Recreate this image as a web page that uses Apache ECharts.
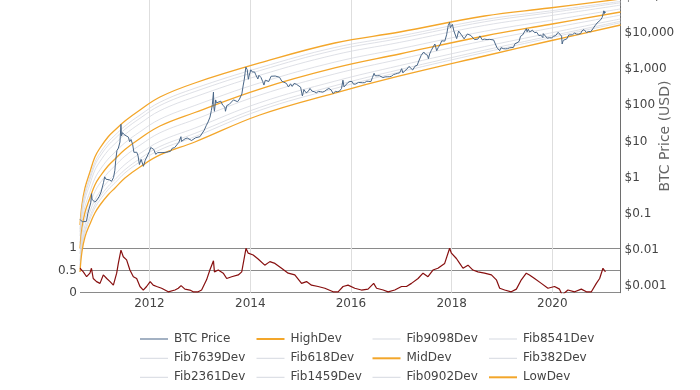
<!DOCTYPE html>
<html><head><meta charset="utf-8">
<script src="https://cdn.jsdelivr.net/npm/echarts@6/dist/echarts.min.js"></script>
<style>html,body{margin:0;padding:0;background:#fff}#c{width:700px;height:390px}</style>
</head><body><div id="c"></div>
<script>
// ---- band sample dates and values ----
const bandDates = ['2010-08-15','2010-08-29','2010-09-20','2010-10-26','2010-12-01','2011-01-07','2011-03-06','2011-04-26','2011-07-07','2011-10-24','2012-03-17','2012-11-25','2014-03-11','2015-09-06','2016-12-20','2018-08-27','2019-12-11','2021-05-10'];
const highDev = [0.0491,0.1752,0.516,1.428,3.71,6.57,13.23,20.65,36.6,73.7,168.5,410.6,1465,5226,10522,29120,48430,85860];
const fib9098 = [0.0376,0.1342,0.390,1.059,2.68,4.75,9.50,14.84,26.5,53.3,121,293,1086,3925,8157,23150,40010,73690];
const fib8541 = [0.0316,0.1127,0.327,0.881,2.20,3.876,7.70,12.03,21.6,43.5,98.1,237.5,903,3285,7004,20130,35690,67420];
const fib7639 = [0.0242,0.0864,0.247,0.653,1.601,2.785,5.535,8.64,15.51,31.2,70.5,169.6,670,2469,5431,16010,29490,58240];
const fib618  = [0.0156,0.0557,0.157,0.403,0.950,1.642,3.223,5.031,9.15,18.42,41.06,98.1,413,1551,3614,11000,21730,45730];
const midDev  = [0.0110,0.0393,0.1086,0.273,0.625,1.072,2.091,3.264,5.975,12.03,26.64,62.9,280,1066,2597,8157,16960,37540];
const fib382  = [0.00776,0.0277,0.0752,0.185,0.410,0.700,1.357,2.118,3.901,7.85,17.29,40.3,190,732,1866,6050,13230,30830];
const fib2361 = [0.005,0.0178,0.0479,0.1143,0.244,0.413,0.790,1.234,2.301,4.63,10.06,23.3,117.2,460,1242,4157,9750,24210];
const fib1459 = [0.00383,0.0137,0.0359,0.0847,0.177,0.297,0.568,0.886,1.653,3.33,7.24,16.63,87.0,346,962,3306,8055,20910];
const fib0902 = [0.00322,0.0115,0.0303,0.0705,0.1445,0.242,0.460,0.719,1.349,2.72,5.86,13.49,72.3,289,826,2874,7185,19010];
const lowDev  = [0.00247,0.00881,0.0229,0.0522,0.105,0.175,0.331,0.516,0.975,1.96,4.22,9.63,53.6,217,641,2286,5936,16430];

// ---- BTC price [date, USD] ----
const btcPrice = [
['2010-08-15',0.07],['2010-09-01',0.06],['2010-09-15',0.062],['2010-10-01',0.062],['2010-10-10',0.10],['2010-10-20',0.10],['2010-11-01',0.20],['2010-11-07',0.36],['2010-11-10',0.25],['2010-11-20',0.28],['2010-12-01',0.21],['2010-12-15',0.24],
['2011-01-01',0.30],['2011-01-15',0.40],['2011-02-01',0.72],['2011-02-10',1.05],['2011-02-20',0.90],['2011-03-01',0.92],['2011-03-15',0.87],['2011-04-01',0.79],['2011-04-15',1.0],['2011-04-25',1.6],['2011-05-01',3.0],['2011-05-10',5.6],['2011-05-20',6.5],['2011-06-01',9.6],['2011-06-08',29.6],['2011-06-12',14],['2011-06-20',17.5],['2011-07-01',15.4],['2011-07-15',13.7],['2011-08-01',13.1],['2011-08-10',9.8],['2011-08-20',11.3],['2011-09-01',8.2],['2011-09-10',5.0],['2011-09-20',5.6],['2011-10-01',5.0],['2011-10-10',4.0],['2011-10-20',2.3],['2011-11-01',3.2],['2011-11-18',2.05],['2011-12-01',3.0],['2011-12-15',3.2],
['2012-01-01',5.3],['2012-01-10',6.8],['2012-01-20',6.4],['2012-02-01',6.0],['2012-02-15',4.4],['2012-03-01',4.9],['2012-03-15',5.3],['2012-04-01',4.9],['2012-04-15',4.9],['2012-05-01',5.0],['2012-05-15',5.0],['2012-06-01',5.3],['2012-06-15',6.5],['2012-07-01',6.7],['2012-07-15',7.6],['2012-08-01',9.4],['2012-08-16',13.5],['2012-08-20',10],['2012-09-01',10.1],['2012-09-15',11.8],['2012-10-01',12.4],['2012-10-15',11.8],['2012-11-01',10.6],['2012-11-15',11.2],['2012-12-01',12.6],['2012-12-15',13.5],
['2013-01-01',13.5],['2013-01-15',14.2],['2013-02-01',20.4],['2013-02-15',27],['2013-03-01',34.5],['2013-03-15',47],['2013-03-25',72],['2013-04-01',104],['2013-04-09',230],['2013-04-12',90],['2013-04-16',68],['2013-04-25',140],['2013-05-01',116],['2013-05-15',115],['2013-06-01',129],['2013-06-15',100],['2013-07-01',88],['2013-07-05',68],['2013-07-15',98],['2013-08-01',105],['2013-08-15',98],['2013-09-01',140],['2013-09-15',127],['2013-10-01',125],['2013-10-15',148],['2013-11-01',205],['2013-11-10',340],['2013-11-18',500],['2013-11-25',800],['2013-11-30',1130],['2013-12-05',1150],['2013-12-10',950],['2013-12-18',520],['2013-12-25',680],
['2014-01-05',950],['2014-01-15',830],['2014-02-01',830],['2014-02-10',690],['2014-02-25',530],['2014-03-05',670],['2014-03-20',580],['2014-04-01',450],['2014-04-10',360],['2014-04-20',490],['2014-05-01',460],['2014-05-15',450],['2014-06-01',630],['2014-06-15',590],['2014-07-01',640],['2014-07-15',620],['2014-08-01',590],['2014-08-18',460],['2014-09-01',480],['2014-09-20',400],['2014-10-05',320],['2014-10-20',390],['2014-11-01',330],['2014-11-15',400],['2014-12-01',380],['2014-12-15',350],
['2015-01-01',315],['2015-01-14',180],['2015-01-25',270],['2015-02-10',220],['2015-02-25',240],['2015-03-10',290],['2015-03-25',245],['2015-04-10',236],['2015-04-25',220],['2015-05-10',240],['2015-05-25',237],['2015-06-10',229],['2015-06-25',243],['2015-07-10',270],['2015-07-25',290],['2015-08-10',265],['2015-08-25',210],['2015-09-10',240],['2015-09-25',235],['2015-10-10',245],['2015-10-25',290],['2015-11-04',490],['2015-11-12',320],['2015-11-25',330],['2015-12-10',420],['2015-12-25',455],
['2016-01-10',448],['2016-01-20',380],['2016-02-05',385],['2016-02-25',425],['2016-03-10',415],['2016-03-25',417],['2016-04-10',420],['2016-04-25',460],['2016-05-10',455],['2016-05-25',450],['2016-06-05',580],['2016-06-17',760],['2016-06-25',650],['2016-07-10',650],['2016-07-25',655],['2016-08-05',580],['2016-08-20',580],['2016-09-05',605],['2016-09-20',610],['2016-10-05',610],['2016-10-20',630],['2016-11-05',700],['2016-11-20',730],['2016-12-05',760],['2016-12-20',790],
['2017-01-03',1020],['2017-01-12',780],['2017-01-25',890],['2017-02-10',990],['2017-02-25',1180],['2017-03-10',1190],['2017-03-24',940],['2017-04-10',1200],['2017-04-25',1260],['2017-05-10',1760],['2017-05-25',2400],['2017-06-01',2400],['2017-06-12',2950],['2017-06-25',2550],['2017-07-10',2400],['2017-07-16',1930],['2017-07-25',2600],['2017-08-05',3200],['2017-08-20',4100],['2017-09-01',4900],['2017-09-14',3200],['2017-09-25',3900],['2017-10-10',4800],['2017-10-20',6000],['2017-11-01',6750],['2017-11-12',5900],['2017-11-25',8800],['2017-12-07',16000],['2017-12-17',19400],['2017-12-22',13800],['2017-12-28',14500],
['2018-01-06',17100],['2018-01-17',11200],['2018-01-28',11700],['2018-02-06',6900],['2018-02-20',11200],['2018-03-05',11500],['2018-03-18',8200],['2018-04-01',6800],['2018-04-10',6800],['2018-04-25',9300],['2018-05-05',9800],['2018-05-20',8400],['2018-06-01',7500],['2018-06-15',6500],['2018-06-29',5900],['2018-07-10',6700],['2018-07-25',8200],['2018-08-10',6400],['2018-08-25',6700],['2018-09-05',7300],['2018-09-15',6500],['2018-10-01',6600],['2018-10-15',6500],['2018-11-01',6350],['2018-11-15',5600],['2018-11-25',3900],['2018-12-05',3800],['2018-12-15',3200],['2018-12-25',3900],
['2019-01-10',3650],['2019-01-25',3600],['2019-02-10',3650],['2019-02-25',3850],['2019-03-10',3900],['2019-03-25',3950],['2019-04-05',5000],['2019-04-20',5300],['2019-05-05',5800],['2019-05-15',8000],['2019-05-30',8700],['2019-06-10',7700],['2019-06-26',13000],['2019-07-02',10600],['2019-07-10',12600],['2019-07-20',10600],['2019-08-01',10400],['2019-08-10',11800],['2019-08-25',10100],['2019-09-10',10300],['2019-09-25',8400],['2019-10-10',8600],['2019-10-24',7400],['2019-10-27',9500],['2019-11-10',8800],['2019-11-25',7100],['2019-12-10',7300],['2019-12-25',7200],
['2020-01-10',8000],['2020-01-25',8400],['2020-02-12',10300],['2020-02-25',9300],['2020-03-08',8100],['2020-03-12',4900],['2020-03-20',6200],['2020-04-01',6600],['2020-04-15',6800],['2020-04-29',8700],['2020-05-10',8700],['2020-05-25',8800],['2020-06-10',9800],['2020-06-25',9200],['2020-07-10',9200],['2020-07-25',9600],['2020-08-02',11200],['2020-08-17',12300],['2020-09-05',10200],['2020-09-20',10900],['2020-10-05',10700],['2020-10-21',12900],['2020-11-05',15600],['2020-11-20',18600],['2020-12-01',19700],['2020-12-17',23000],['2020-12-27',26500],
['2021-01-03',33000],['2021-01-08',40500],['2021-01-12',34000],['2021-01-15',39000],['2021-01-20',35500]
];

// ---- lower-panel oscillator (0..1) ----
const riskIndex = [
['2010-08-15',0.55],['2010-09-08',0.47],['2010-10-02',0.36],['2010-10-14',0.32],['2010-10-26',0.44],['2010-11-06',0.55],['2010-11-19',0.32],['2010-12-13',0.25],['2011-01-07',0.21],['2011-01-31',0.40],['2011-02-25',0.32],['2011-03-21',0.25],['2011-04-14',0.17],['2011-05-08',0.44],['2011-05-20',0.66],['2011-06-08',0.96],['2011-06-25',0.81],['2011-07-19',0.74],['2011-08-12',0.51],['2011-09-06',0.36],['2011-09-30',0.32],['2011-10-24',0.14],['2011-11-17',0.06],['2011-12-11',0.14],
['2012-01-06',0.25],['2012-01-28',0.17],['2012-02-22',0.14],['2012-03-29',0.10],['2012-05-16',0.02],['2012-07-04',0.06],['2012-07-28',0.10],['2012-08-17',0.16],['2012-09-14',0.08],['2012-10-20',0.06],['2012-11-13',0.02],['2012-12-19',0.02],
['2013-01-13',0.06],['2013-02-18',0.29],['2013-03-14',0.51],['2013-04-09',0.72],['2013-04-16',0.47],['2013-05-14',0.51],['2013-06-19',0.44],['2013-07-14',0.32],['2013-08-19',0.36],['2013-10-06',0.40],['2013-10-31',0.47],['2013-12-01',1.0],['2013-12-17',0.89],
['2014-01-22',0.85],['2014-02-27',0.76],['2014-03-11',0.74],['2014-04-16',0.62],['2014-05-23',0.70],['2014-06-29',0.66],['2014-08-16',0.55],['2014-10-03',0.44],['2014-11-20',0.40],
['2015-01-08',0.21],['2015-02-13',0.25],['2015-03-21',0.17],['2015-05-08',0.14],['2015-06-26',0.10],['2015-08-25',0.02],['2015-09-30',0.02],['2015-11-05',0.14],['2015-12-11',0.17],
['2016-01-29',0.10],['2016-03-17',0.06],['2016-05-04',0.08],['2016-06-14',0.21],['2016-07-05',0.10],['2016-08-22',0.06],['2016-09-27',0.02],['2016-11-14',0.06],
['2017-01-02',0.14],['2017-02-07',0.14],['2017-03-15',0.21],['2017-05-02',0.32],['2017-06-07',0.44],['2017-07-13',0.36],['2017-08-18',0.51],['2017-09-23',0.55],['2017-10-06',0.51],['2017-11-11',0.66],['2017-12-17',1.0],['2017-12-30',0.89],
['2018-02-04',0.77],['2018-02-28',0.66],['2018-03-24',0.55],['2018-04-29',0.62],['2018-06-04',0.51],['2018-07-10',0.47],['2018-08-27',0.44],['2018-10-16',0.40],['2018-11-21',0.29],['2018-12-15',0.10],
['2019-01-20',0.06],['2019-03-09',0.02],['2019-04-15',0.08],['2019-05-21',0.29],['2019-06-26',0.44],['2019-07-19',0.40],['2019-08-25',0.32],['2019-10-13',0.21],['2019-11-30',0.10],
['2020-01-17',0.14],['2020-02-22',0.08],['2020-03-12',-0.05],['2020-04-23',0.06],['2020-06-11',0.02],['2020-07-29',0.08],['2020-09-04',0.02],['2020-10-10',0.02],['2020-11-15',0.21],['2020-12-09',0.32],['2021-01-02',0.55],['2021-01-20',0.47]
];

// ---- axis ticks and legend layout ----
const yearTicks = [2012, 2014, 2016, 2018, 2020];
const riskTicks = [0, 0.5, 1];
const xMin = '2010-08-15', xMax = '2021-05-10';
const legendRows = [
  ['BTC Price', 'HighDev', 'Fib9098Dev', 'Fib8541Dev'],
  ['Fib7639Dev', 'Fib618Dev', 'MidDev', 'Fib382Dev'],
  ['Fib2361Dev', 'Fib1459Dev', 'Fib0902Dev', 'LowDev']
];

const FONT = '"DejaVu Sans", Verdana, sans-serif';
const ts = s => { const p = s.split('-').map(Number); return new Date(p[0], p[1] - 1, p[2]).getTime(); };
const yearTs = yearTicks.map(y => new Date(y, 0, 1).getTime());
const pts = arr => arr.map(([d, v]) => [ts(d), v]);
const pair = (dates, vals) => dates.map((d, i) => [ts(d), vals[i]]);

const ORANGE = '#f3a62a', FIB = '#d5d8e0';
const bands = [
  ['HighDev', highDev, ORANGE, 1.3], ['Fib9098Dev', fib9098, FIB, 0.8], ['Fib8541Dev', fib8541, FIB, 0.8],
  ['Fib7639Dev', fib7639, FIB, 0.8], ['Fib618Dev', fib618, FIB, 0.8], ['MidDev', midDev, ORANGE, 1.3],
  ['Fib382Dev', fib382, FIB, 0.8], ['Fib2361Dev', fib2361, FIB, 0.8], ['Fib1459Dev', fib1459, FIB, 0.8],
  ['Fib0902Dev', fib0902, FIB, 0.8], ['LowDev', lowDev, ORANGE, 1.3]
];

const series = bands.map(([name, vals, color, w]) => ({
  name, type: 'line', xAxisIndex: 0, yAxisIndex: 0, data: pair(bandDates, vals),
  symbol: 'none', smooth: 0.4, lineStyle: { color, width: w }, itemStyle: { color }, z: 2
}));
series.push({
  name: 'BTC Price', type: 'line', xAxisIndex: 0, yAxisIndex: 0, data: pts(btcPrice), symbol: 'none',
  lineStyle: { color: '#4a6788', width: 1 }, itemStyle: { color: '#7b90aa' }, z: 3
});
series.push({
  name: 'Risk', type: 'line', xAxisIndex: 1, yAxisIndex: 1, data: pts(riskIndex), symbol: 'none',
  lineStyle: { color: '#870f0f', width: 1.2 }, z: 3
});

function priceFmt(v) {
  if (v >= 1) return '$' + Math.round(v).toLocaleString('en-US');
  return '$' + String(+v.toPrecision(1));
}

const colLeft = [140, 256.5, 372.5, 489];
const rowMid = [339, 358.3, 377.3];
const legends = [];
legendRows.forEach((row, i) => row.forEach((name, j) => {
  const orange = /HighDev|MidDev|LowDev/.test(name);
  const h = orange ? 2 : (name === 'BTC Price' ? 1.4 : 1);
  legends.push({
    data: [name], left: colLeft[j], top: rowMid[i] - 8, padding: 0, icon: 'rect',
    itemWidth: 28, itemHeight: h, itemGap: 0, selectedMode: false,
    textStyle: { fontFamily: FONT, fontSize: 12, color: '#444', lineHeight: 16, padding: [0, 0, 0, 1] }
  });
}));

const xBase = { type: 'value', min: ts(xMin), max: ts(xMax), axisLine: { show: false } };

const chart = echarts.init(document.getElementById('c'), null, { renderer: 'canvas' });
chart.setOption({
  animation: false,
  backgroundColor: '#fff',
  textStyle: { fontFamily: FONT },
  grid: [
    { left: 80, right: 79.4, top: -3.4, bottom: 97.3, containLabel: false, outerBoundsMode: 'none' },
    { left: 80, right: 79.4, top: 248.3, height: 44.4, containLabel: false, outerBoundsMode: 'none' }
  ],
  xAxis: [
    Object.assign({}, xBase, { gridIndex: 0,
      axisTick: { show: false, customValues: yearTs },
      axisLabel: { show: false, customValues: yearTs },
      splitLine: { show: true, lineStyle: { color: '#dedede', width: 1 } } }),
    Object.assign({}, xBase, { gridIndex: 1,
      axisTick: { show: false, customValues: yearTs },
      axisLabel: { show: true, customValues: yearTs, margin: 5, color: '#444', fontSize: 12, fontFamily: FONT,
        formatter: v => String(new Date(v).getFullYear()) },
      splitLine: { show: false } })
  ],
  yAxis: [
    { type: 'log', gridIndex: 0, position: 'right', logBase: 10, min: 0.000661, max: 100000, splitNumber: 8,
      axisLine: { show: true, lineStyle: { color: '#6e6e6e', width: 1 } }, axisTick: { show: false },
      axisLabel: { color: '#444', fontSize: 12, fontFamily: FONT, margin: 4, showMinLabel: false, formatter: priceFmt },
      splitLine: { show: false } },
    { type: 'value', gridIndex: 1, position: 'left', min: riskTicks[0], max: riskTicks[2], interval: 0.5,
      axisLine: { show: false }, axisTick: { show: false },
      axisLabel: { color: '#444', fontSize: 12, fontFamily: FONT, margin: 3, formatter: v => String(v) },
      splitLine: { show: true, lineStyle: { color: '#8a8a8a', width: 1 } } }
  ],
  legend: legends,
  graphic: [{
    type: 'text', x: 665, y: 136, rotation: Math.PI / 2,
    style: { text: 'BTC Price (USD)', fill: '#666', font: '14px ' + FONT, align: 'center', verticalAlign: 'middle' }
  }],
  series
});
</script></body></html>
